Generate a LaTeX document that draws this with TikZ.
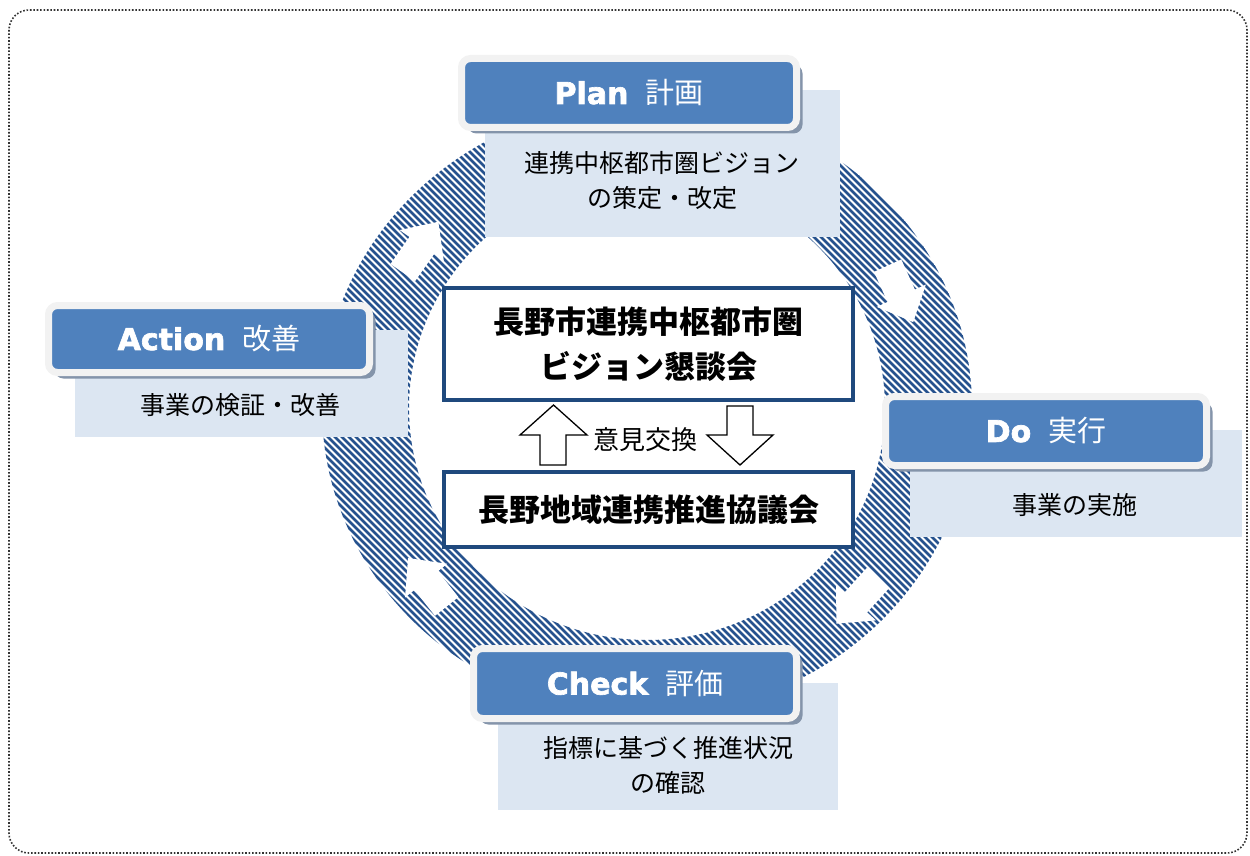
\documentclass[tikz,border=0pt]{standalone}
\usepackage{fontspec}
\setmainfont{Noto Sans CJK JP}
\newfontfamily\heavyfont{DejaVu Sans}[BoldFeatures={FakeBold=2.2}]
\usetikzlibrary{shadows}
\definecolor{hdrblue}{RGB}{79,129,189}
\definecolor{hdrrim}{RGB}{242,242,242}
\definecolor{hdrshadow}{RGB}{132,148,170}
\definecolor{descfill}{RGB}{220,230,242}
\definecolor{boxblue}{RGB}{31,73,125}
\definecolor{ringblue}{RGB}{38,82,142}
\definecolor{framegray}{RGB}{50,50,50}
\newcommand\hdrtext[2]{{\heavyfont\bfseries\fontsize{30}{30}\selectfont #1}\hspace{17pt}{\fontsize{29}{29}\selectfont #2}}
\begin{document}
\begin{tikzpicture}[x=1pt,y=-1pt,
  framestyle/.style={draw=framegray, line width=1.6pt, dash pattern=on 1.6pt off 1.8pt, rounded corners=20pt},
  hdr/.style={rounded corners=9pt, fill=hdrblue, draw=hdrrim, line width=7pt, inner sep=0pt, text=white,
    drop shadow={shadow xshift=6pt, shadow yshift=-6pt, fill=hdrshadow, opacity=1}},
  desc/.style={fill=descfill, inner sep=0pt},
  desctext/.style={font=\fontsize{25}{35}\selectfont, align=center, text=black, inner sep=0pt},
  centerbox/.style={draw=boxblue, line width=4pt, fill=white, inner sep=0pt, font=\fontsize{31}{45}\selectfont\bfseries, align=center},
  stripe/.style={draw=ringblue, line width=2.7pt},
  ringarrow/.style={fill=white},
  exarrow/.style={draw=black, line width=1.3pt, fill=white, line join=miter},
]
\useasboundingbox (0,0) rectangle (1250,856);
\draw[framestyle] (9,10) rectangle (1247,853);

% ring of diagonal stripes
\begin{scope}[even odd rule]
  \clip
    (647,408) ellipse [x radius=325pt, y radius=307pt]
    (647,408) ellipse [x radius=238pt, y radius=232pt];
  \foreach \t in {-400,-393,...,1000}
    \draw[stripe] (\t,80) -- (\t+660,740);
\end{scope}
\foreach \px/\py/\ang in {420/248/55, 900/293/-65.6, 858/600/-132.3, 428/583/128.6}
  \fill[ringarrow, shift={(\px,\py)}, rotate=\ang]
    (-30,-15) -- (3,-15) -- (3,-27) -- (32,0) -- (3,27) -- (3,15) -- (-30,15) -- cycle;

% description boxes
\node[desc, minimum width=355pt, minimum height=147pt] (plandesc) at (662.5,163.5) {};
\node[desc, minimum width=333pt, minimum height=107pt] (actdesc) at (241.5,383.5) {};
\node[desc, minimum width=332pt, minimum height=107pt] (dodesc) at (1076,483.5) {};
\node[desc, minimum width=340pt, minimum height=127pt] (chkdesc) at (668,746.5) {};

% headers
\node[hdr, minimum width=335pt, minimum height=69pt] (plan) at (629,93) {\hdrtext{Plan}{計画}};
\node[hdr, minimum width=321pt, minimum height=67pt] (action) at (209,339) {\hdrtext{Action}{改善}};
\node[hdr, minimum width=321pt, minimum height=69pt] (do) at (1046,431) {\hdrtext{Do}{実行}};
\node[hdr, minimum width=323pt, minimum height=70pt] (check) at (635,683.5) {\hdrtext{Check}{評価}};

% description texts
\node[desctext] (plantext) at (662,180) {連携中枢都市圏ビジョン\\の策定・改定};
\node[desctext] (acttext) at (240,405) {事業の検証・改善};
\node[desctext] (dotext) at (1075,505) {事業の実施};
\node[desctext] (chktext) at (668,765) {指標に基づく推進状況\\の確認};

% center boxes
\node[centerbox, minimum width=409pt, minimum height=112pt] (council) at (648.5,344) {長野市連携中枢都市圏\\ビジョン懇談会};
\node[centerbox, minimum width=409pt, minimum height=75pt] (assembly) at (648.5,509.5) {長野地域連携推進協議会};

% exchange arrows
\draw[exarrow] (540,465) -- (566,465) -- (566,435) -- (587,435) -- (553.5,405) -- (520,435) -- (540,435) -- cycle;
\draw[exarrow] (727,406) -- (753,406) -- (753,435) -- (773,435) -- (740,465) -- (707,435) -- (727,435) -- cycle;
\node[font=\fontsize{26}{26}\selectfont, inner sep=0pt] (exchange) at (645,440) {意見交換};
\end{tikzpicture}
\end{document}
